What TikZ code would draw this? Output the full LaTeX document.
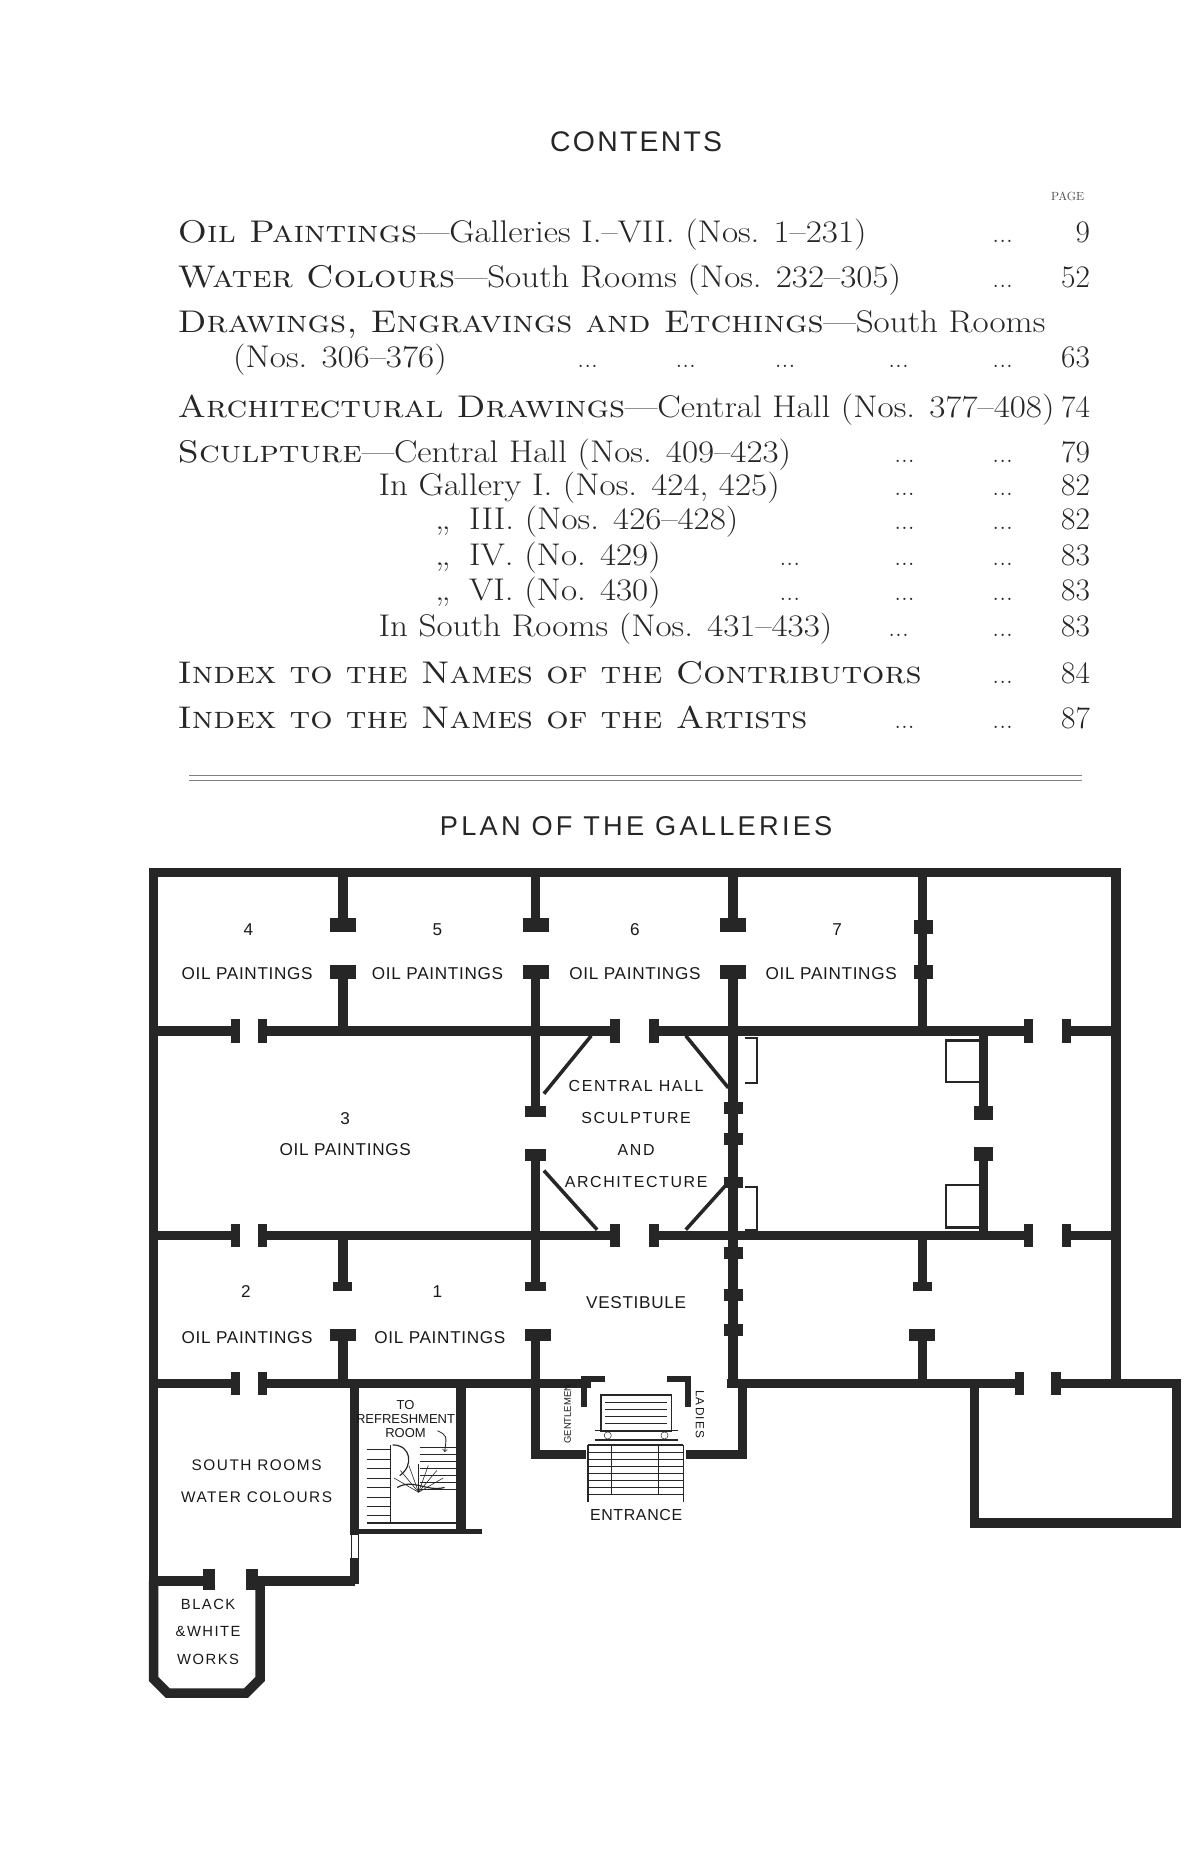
\documentclass[tikz,border=0pt]{standalone}
\usepackage{fontspec}
\newfontfamily\plan{Liberation Sans}
\newcommand\sxx[1]{\scalebox{1.12}[1]{#1}}
\begin{document}
\begin{tikzpicture}[x=1pt,y=-1pt,
  wall/.style={line width=8pt,draw=black!85,line cap=butt},
  pier/.style={fill=black!85},
  lab/.style={font=\plan\fontsize{14.5}{16}\selectfont\addfontfeature{LetterSpace=4},text=black!90,inner sep=0pt},
  ct/.style={anchor=base west,inner sep=0pt,font=\fontsize{26.5}{28}\selectfont,text=black!85},
  pg/.style={anchor=base east,inner sep=0pt,font=\fontsize{26.5}{28}\selectfont,text=black!85},
  dt/.style={anchor=base,inner sep=0pt,font=\fontsize{23}{26}\selectfont,text=black!85}]
\fill[black!3!white!96!green!4] (0,0) rectangle (1015,1568);
\useasboundingbox (0,0) rectangle (1015,1568);
% contents
\node[inner sep=0pt,font=\plan\fontsize{24}{28}\selectfont\addfontfeature{LetterSpace=8},text=black!85] (title) at (538,120) {CONTENTS};
\node[inner sep=0pt,font=\fontsize{10}{12}\selectfont\addfontfeature{LetterSpace=10},text=black!70] (page) at (903,166) {PAGE};
\newcommand\crow[4]{\node[ct] at (#1,#2) {\sxx{#3}}; \node[pg] at (922,#2) {#4};}
\crow{150}{205}{\textsc{Oil Paintings}—Galleries I.–VII. (Nos. 1–231)}{9}
\node[dt] at (848,205) {...};
\crow{150}{243}{\textsc{Water Colours}—South Rooms (Nos. 232–305)}{52}
\node[dt] at (848,243) {...};
\node[ct] at (150,281) {\sxx{\textsc{Drawings, Engravings and Etchings}—South Rooms}};
\crow{197}{311}{(Nos. 306–376)}{63}
\foreach \x in {497,580,664,760,848}{\node[dt] at (\x,311) {...};}
\crow{150}{353}{\textsc{Architectural Drawings}—Central Hall (Nos. 377–408)}{74}
\crow{150}{391}{\textsc{Sculpture}—Central Hall (Nos. 409–423)}{79}
\crow{320}{419}{In Gallery I. (Nos. 424, 425)}{82}
\crow{368}{448}{,,\hspace{14pt}III. (Nos. 426–428)}{82}
\crow{368}{478}{,,\hspace{14pt}IV. (No. 429)}{83}
\crow{368}{508}{,,\hspace{14pt}VI. (No. 430)}{83}
\crow{320}{538}{In South Rooms (Nos. 431–433)}{83}
\foreach \y in {391,419,448,478,508}{\node[dt] at (765,\y) {...}; \node[dt] at (848,\y) {...};}
\foreach \y in {478,508}{\node[dt] at (668,\y) {...};}
\node[dt] at (760,538) {...}; \node[dt] at (848,538) {...};
\crow{150}{578}{\textsc{Index to the Names of the Contributors}}{84}
\node[dt] at (848,578) {...};
\crow{150}{616}{\textsc{Index to the Names of the Artists}}{87}
\node[dt] at (765,616) {...}; \node[dt] at (848,616) {...};
\draw[black!50,line width=0.6pt] (160,656)--(915,656) (160,660)--(915,660);
\node[inner sep=0pt,font=\plan\fontsize{23}{27}\selectfont\addfontfeature{LetterSpace=12},text=black!85] (plantitle) at (538,699) {PLAN OF THE GALLERIES};
% ---------- plan ----------
\draw[wall] (130,1340)--(130,738)--(944,738)--(944,1166);
\foreach \y in {872,1045}{
 \draw[wall] (130,\y)--(199,\y) (222,\y)--(520,\y) (553,\y)--(870,\y) (902,\y)--(944,\y);
 \foreach \x in {199,222,520,553,870,902}{\fill[pier] (\x-4,\y-10) rectangle (\x+4,\y+10);}
}
\draw[wall] (130,1170)--(199,1170) (222,1170)--(500,1170);
\draw[wall] (615,1170)--(862,1170) (893,1170)--(995,1170)--(995,1288)--(824,1288)--(824,1166);
\foreach \x in {199,222,862,893}{\fill[pier] (\x-4,1160) rectangle (\x+4,1180);}
\foreach \x in {290,453,620}{
 \draw[wall] (\x,738)--(\x,782) (\x,822)--(\x,872);
 \fill[pier] (\x-11,776) rectangle (\x+11,788);
 \fill[pier] (\x-11,816) rectangle (\x+11,828);
}
\draw[wall] (780,738)--(780,870);
\fill[pier] (773,778) rectangle (789,790); \fill[pier] (773,816) rectangle (789,828);
\draw[wall] (453,872)--(453,940) (453,975)--(453,1045) (453,1045)--(453,1090);
\fill[pier] (444,935) rectangle (462,945); \fill[pier] (444,972) rectangle (462,982);
\draw[black!85,line width=3pt] (460,925)--(500,876) (460,990)--(505,1040) (580,876)--(616,920) (580,1040)--(616,1000);
\draw[wall] (620,872)--(620,1170);
\foreach \y in {937,963,1000,1060,1095,1125}{\fill[pier] (612,\y-5) rectangle (628,\y+5);}
\draw[black!85,line width=2pt] (630,878)--(640,878)--(640,916)--(630,916);
\draw[black!85,line width=2pt] (630,1040)--(640,1040)--(640,1004)--(630,1004);
\draw[wall] (832,872)--(832,940) (832,975)--(832,1045);
\fill[pier] (824,935) rectangle (840,947); \fill[pier] (824,970) rectangle (840,982);
\draw[black!85,line width=2pt] (828,880)--(800,880)--(800,915)--(828,915);
\draw[black!85,line width=2pt] (828,1038)--(800,1038)--(800,1002)--(828,1002);
\foreach \x in {290,780}{
 \draw[wall] (\x,1045)--(\x,1090) (\x,1126)--(\x,1170);
 \fill[pier] (\x-8,1084) rectangle (\x+8,1092);
 \fill[pier] (\x-11,1124) rectangle (\x+11,1134);
}
\fill[pier] (444,1084) rectangle (462,1092);
\draw[wall] (453,1128)--(453,1170);
\fill[pier] (444,1124) rectangle (466,1134);
% gentlemen / ladies
\draw[wall] (453,1170)--(453,1230)--(496,1230);
\draw[wall] (628,1170)--(628,1230)--(580,1230);
\draw[black!85,line width=5pt] (494,1190)--(494,1166)--(512,1166);
\draw[black!85,line width=5pt] (582,1190)--(582,1166)--(564,1166);
\draw[black!85,line width=1.5pt] (508,1180) rectangle (568,1210);
\foreach \y in {1186,1192,1198,1204}{\draw[black!85,line width=0.8pt] (512,\y)--(564,\y);}
\draw[black!85,line width=1.2pt] (503,1210)--(573,1210) (503,1218)--(573,1218);
\draw[black!85] (514,1214) circle (3) (562,1214) circle (3);
\draw[black!85,line width=1.5pt] (497,1222)--(497,1270) (578,1222)--(578,1270) (497,1222)--(578,1222);
\foreach \y in {1228,1234,...,1264}{\draw[black!85,line width=0.6pt] (497,\y)--(578,\y);}
\draw[black!85,line width=0.8pt] (517,1222)--(517,1264) (557,1222)--(557,1264);
% south rooms / stair
\draw[wall] (300,1170)--(300,1298) (300,1318)--(300,1340);
\draw[black!85,line width=1pt] (297,1298)--(297,1318) (303,1298)--(303,1318);
\draw[wall] (390,1170)--(390,1295);
\draw[black!85,line width=4pt] (304,1295)--(408,1295);
\foreach \y in {1224,1230,...,1262}{\draw[black!85,line width=0.6pt] (355,\y)--(386,\y);}
\foreach \y in {1226,1234,...,1282}{\draw[black!85,line width=0.6pt] (310,\y)--(330,\y);}
\draw[black!85,line width=1pt] (330,1222)--(330,1288) (310,1288)--(386,1288);
\draw[black!85,line width=1pt] (336,1258) .. controls (350,1250) and (360,1262) .. (376,1258);
\draw[black!85,line width=1pt] (332,1222) .. controls (348,1222) and (350,1240) .. (338,1248);
\foreach \a in {-60,-40,...,60}{\draw[black!85,line width=0.5pt] (354,1262)--++({90+\a}:24pt);}
\draw[->,black!85,line width=0.7pt] (370,1210) .. controls (378,1214) .. (376,1228);
\draw[wall] (130,1337)--(180,1337) (212,1337)--(300,1337);
\fill[pier] (172,1327) rectangle (182,1345); \fill[pier] (208,1327) rectangle (218,1345);
\draw[wall,line join=miter] (130,1337)--(130,1420)--(142,1432)--(208,1432)--(220,1420)--(220,1337);
% labels
\foreach \x/\n in {210/4,370/5,537/6,708/7}{\node[lab] (n\n) at (\x,786) {\n};}
\node[lab] (g4) at (209,823) {OIL PAINTINGS};
\node[lab] (g5) at (370,823) {OIL PAINTINGS};
\node[lab] (g6) at (537,823) {OIL PAINTINGS};
\node[lab] (g7) at (703,823) {OIL PAINTINGS};
\node[lab] (n3) at (292,946) {3};
\node[lab] (g3) at (292,972) {OIL PAINTINGS};
\node[lab,align=center,font=\plan\fontsize{13.5}{27}\selectfont\addfontfeature{LetterSpace=10}] (ch) at (538,959) {CENTRAL HALL\\SCULPTURE\\AND\\ARCHITECTURE};
\node[lab] (n2) at (208,1092) {2};
\node[lab] (n1) at (370,1092) {1};
\node[lab] (vest) at (538,1102) {VESTIBULE};
\node[lab] (g2) at (209,1131) {OIL PAINTINGS};
\node[lab] (g1) at (372,1131) {OIL PAINTINGS};
\node[lab,rotate=90,font=\plan\fontsize{8}{10}\selectfont\addfontfeature{LetterSpace=0}] (gent) at (480,1196) {GENTLEMEN};
\node[lab,rotate=-90,font=\plan\fontsize{10}{12}\selectfont\addfontfeature{LetterSpace=10}] (ladies) at (592,1196) {LADIES};
\node[lab,align=center,font=\plan\fontsize{11}{12}\selectfont] (refr) at (343,1200) {TO\\REFRESHMENT\\ROOM};
\node[lab,align=center,font=\plan\fontsize{13}{27}\selectfont\addfontfeature{LetterSpace=10}] (south) at (217,1253) {SOUTH ROOMS\\WATER COLOURS};
\node[lab,font=\plan\fontsize{13.5}{15}\selectfont\addfontfeature{LetterSpace=4}] (ent) at (538,1281) {ENTRANCE};
\node[lab,align=center,font=\plan\fontsize{12.5}{23}\selectfont\addfontfeature{LetterSpace=10}] (bw) at (176,1380) {BLACK\\\&WHITE\\WORKS};
\end{tikzpicture}
\end{document}
